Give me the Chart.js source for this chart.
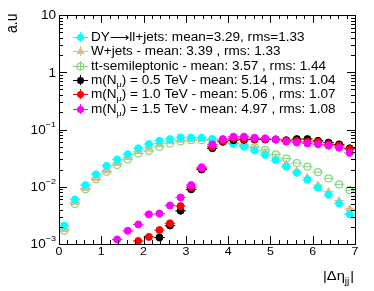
<!DOCTYPE html>
<html>
<head>
<meta charset="utf-8">
<script src="https://cdn.jsdelivr.net/npm/chart.js@4.4.1/dist/chart.umd.min.js"></script>
<style>
  html, body { margin: 0; padding: 0; background: #fff; }
</style>
</head>
<body>
<canvas id="c" width="374" height="291"></canvas>
<script>
// bin centres of |delta eta_jj| (bin width 0.25)
const binCenters = [0.125, 0.375, 0.625, 0.875, 1.125, 1.375, 1.625, 1.875, 2.125, 2.375,
                    2.625, 2.875, 3.125, 3.375, 3.625, 3.875, 4.125, 4.375, 4.625, 4.875,
                    5.125, 5.375, 5.625, 5.875, 6.125, 6.375, 6.625, 6.875];
const binHalfWidth = 0.125;

const dyValues = [0.0021, 0.006, 0.0107, 0.0165, 0.0232, 0.030, 0.037, 0.047, 0.0556, 0.0635,
                  0.068, 0.0728, 0.0728, 0.072, 0.068, 0.062, 0.056, 0.050, 0.043, 0.036,
                  0.029, 0.0224, 0.0175, 0.0132, 0.0096, 0.0072, 0.0051, 0.0033];
const wjValues = [0.0018, 0.0053, 0.0093, 0.014, 0.019, 0.0256, 0.0325, 0.042, 0.048, 0.057,
                  0.0615, 0.065, 0.066, 0.068, 0.066, 0.063, 0.059, 0.0556, 0.048, 0.040,
                  0.0316, 0.0249, 0.019, 0.0146, 0.0107, 0.0082, 0.0057, 0.0041];
const ttValues = [0.0017, 0.005, 0.009, 0.0135, 0.0182, 0.024, 0.030, 0.038, 0.042, 0.050,
                  0.057, 0.0615, 0.065, 0.065, 0.065, 0.062, 0.057, 0.053, 0.049, 0.044,
                  0.0367, 0.031, 0.026, 0.0224, 0.018, 0.014, 0.011, 0.0087];
const n05Values = [null, null, null, null, null, null, null, null, null, 0.0013,
                   0.0021, 0.0038, 0.009, 0.020, 0.047, 0.061, 0.065, 0.066, 0.067, 0.067,
                   0.067, 0.065, 0.068, 0.068, 0.0635, 0.059, 0.055, 0.047];
const n10Values = [null, null, null, null, null, null, null, 0.00113, 0.00133, 0.00175,
                   0.0023, 0.0046, 0.0098, 0.021, 0.050, 0.063, 0.070, 0.068, 0.068, 0.068,
                   0.067, 0.064, 0.063, 0.061, 0.061, 0.055, 0.052, 0.0455];
const n15Values = [null, null, null, null, null, 0.0012, 0.0017, 0.0022, 0.0033, 0.0034,
                   0.0047, 0.0065, 0.0107, 0.022, 0.055, 0.068, 0.075, 0.075, 0.072, 0.070,
                   0.067, 0.061, 0.059, 0.057, 0.055, 0.052, 0.048, 0.039];

const xTickLabels = ['0', '1', '2', '3', '4', '5', '6', '7'];
const yDecades = [1e-3, 1e-2, 1e-1, 1, 10];
const yTickLabels = [['10', '\u22123'], ['10', '\u22122'], ['10', '\u22121'], ['1', ''], ['10', '']];

// [text before subscript, subscript, text after]
const legendLabels = [
  ['DY\u27f6ll+jets: mean=3.29, rms=1.33'],
  ['W+jets - mean: 3.39 , rms: 1.33'],
  ['tt-semileptonic - mean: 3.57 , rms: 1.44'],
  ['m(N', '\u03bc', ') = 0.5 TeV - mean: 5.14 , rms: 1.04'],
  ['m(N', '\u03bc', ') = 1.0 TeV - mean: 5.06 , rms: 1.07'],
  ['m(N', '\u03bc', ') = 1.5 TeV - mean: 4.97 , rms: 1.08']
];

const FONT = '"Liberation Sans", Arial, Helvetica, sans-serif';
const SYMFONT = '"DejaVu Sans", sans-serif';
const TEXT_STRETCH = 1.13;

function toPoints(values) {
  const pts = [];
  values.forEach((v, i) => { if (v !== null) pts.push({ x: binCenters[i], y: v }); });
  return pts;
}

function series(label, values, color, style, order) {
  const open = style === 'open';
  return {
    label,
    data: toPoints(values),
    showLine: false,
    order,
    pointStyle: style === 'triangle' ? 'triangle' : 'circle',
    pointRadius: style === 'triangle' ? 4 : 3.5,
    pointBorderWidth: open ? 1.2 : 1,
    pointBorderColor: color,
    pointBackgroundColor: open ? 'rgba(0,0,0,0)' : color,
    errColor: color,
    markerStyle: style
  };
}

const datasets = [
  series(legendLabels[0][0], dyValues, '#00ffff', 'filled', 4),
  series(legendLabels[1][0], wjValues, '#deb887', 'triangle', 5),
  series(legendLabels[2][0], ttValues, '#80d880', 'open', 6),
  series('m05', n05Values, '#000000', 'filled', 3),
  series('m10', n10Values, '#ff0000', 'filled', 2),
  series('m15', n15Values, '#ff00ff', 'filled', 1)
];

// stretched text, like the original picture
function stretchText(ctx, text, x, y, align) {
  const w = ctx.measureText(text).width * TEXT_STRETCH;
  let x0 = x;
  if (align === 'right') x0 = x - w;
  else if (align === 'center') x0 = x - w / 2;
  ctx.save();
  ctx.translate(x0, y);
  ctx.scale(TEXT_STRETCH, 1);
  ctx.textAlign = 'left';
  ctx.fillText(text, 0, 0);
  ctx.restore();
  return w;
}

// arrow glyph comes from DejaVu, Liberation does not have the long one
function legendText(ctx, text, x, y, size) {
  const bits = text.split('\u27f6');
  bits.forEach((b, i) => {
    if (i > 0) {
      ctx.font = size + 'px ' + SYMFONT;
      x += stretchText(ctx, '\u27f6', x, y, 'left');
    }
    ctx.font = size + 'px ' + FONT;
    x += stretchText(ctx, b, x, y, 'left');
  });
  return x;
}

function drawMarker(ctx, style, color, x, y) {
  ctx.save();
  ctx.strokeStyle = color;
  ctx.fillStyle = color;
  ctx.lineWidth = style === 'open' ? 1.2 : 1;
  ctx.beginPath();
  if (style === 'triangle') {
    ctx.moveTo(x, y - 4.5);
    ctx.lineTo(x + 4, y + 2.5);
    ctx.lineTo(x - 4, y + 2.5);
    ctx.closePath();
    ctx.fill();
  } else {
    ctx.arc(x, y, 3.5, 0, Math.PI * 2);
    if (style === 'open') ctx.stroke(); else ctx.fill();
  }
  ctx.restore();
}

// horizontal bin-width error bars under each marker
const errorBars = {
  id: 'errorBars',
  beforeDatasetDraw(chart, args) {
    const ds = chart.data.datasets[args.index];
    const xs = chart.scales.x, ys = chart.scales.y;
    const ctx = chart.ctx;
    ctx.save();
    ctx.strokeStyle = ds.errColor;
    ctx.lineWidth = 1;
    ds.data.forEach(p => {
      const yp = ys.getPixelForValue(p.y);
      ctx.beginPath();
      ctx.moveTo(xs.getPixelForValue(p.x - binHalfWidth), yp);
      ctx.lineTo(xs.getPixelForValue(p.x + binHalfWidth), yp);
      ctx.stroke();
    });
    ctx.restore();
  }
};

// ROOT-like frame, inward ticks, labels, titles and legend
const rootFrame = {
  id: 'rootFrame',
  afterDraw(chart) {
    const ctx = chart.ctx;
    const a = chart.chartArea;
    const xs = chart.scales.x, ys = chart.scales.y;
    ctx.save();
    ctx.strokeStyle = '#000';
    ctx.lineWidth = 1;
    ctx.strokeRect(Math.round(a.left) + 0.5, Math.round(a.top) + 0.5,
                   Math.round(a.right - a.left), Math.round(a.bottom - a.top));

    ctx.beginPath();
    for (let i = 0; i <= 35; i++) {
      const v = i * 0.2;
      const px = Math.round(xs.getPixelForValue(v)) + 0.5;
      const len = (i % 5 === 0) ? 8 : 4;
      ctx.moveTo(px, a.bottom); ctx.lineTo(px, a.bottom - len);
      ctx.moveTo(px, a.top); ctx.lineTo(px, a.top + len);
    }
    yDecades.forEach((d, k) => {
      for (let m = 1; m <= 9; m++) {
        if (k === yDecades.length - 1 && m > 1) break;
        const py = Math.round(ys.getPixelForValue(d * m)) + 0.5;
        const len = m === 1 ? 8 : 4;
        ctx.moveTo(a.left, py); ctx.lineTo(a.left + len, py);
        ctx.moveTo(a.right, py); ctx.lineTo(a.right - len, py);
      }
    });
    ctx.stroke();

    ctx.fillStyle = '#000';
    ctx.textBaseline = 'middle';
    ctx.font = '11px ' + FONT;
    xTickLabels.forEach(t => {
      stretchText(ctx, t, xs.getPixelForValue(Number(t)), a.bottom + 8, 'center');
    });

    yDecades.forEach((d, k) => {
      const py = ys.getPixelForValue(d);
      const [base, exp] = yTickLabels[k];
      let right = 56;
      if (exp) {
        ctx.font = '8px ' + FONT;
        const ew = stretchText(ctx, exp, right, py - 5, 'right');
        right -= ew;
      }
      ctx.font = '12px ' + FONT;
      stretchText(ctx, base, right, py + 1, 'right');
    });

    // axis titles
    ctx.font = '13px ' + FONT;
    ctx.textBaseline = 'alphabetic';
    let tx = 323;
    tx += stretchText(ctx, '|\u0394\u03b7', tx, 280, 'left');
    ctx.font = '9px ' + FONT;
    tx += stretchText(ctx, 'jj', tx, 284, 'left');
    ctx.font = '13px ' + FONT;
    stretchText(ctx, '|', tx + 1, 280, 'left');

    ctx.save();
    ctx.translate(17, 33);
    ctx.rotate(-Math.PI / 2);
    ctx.scale(1, 1.2);
    ctx.font = '14px ' + FONT;
    ctx.fillText('a.u', 0, 0);
    ctx.restore();

    // legend
    const rowY = [37, 51, 66, 80, 94, 109];
    chart.data.datasets.forEach((ds, i) => {
      const y = rowY[i];
      ctx.strokeStyle = ds.errColor;
      ctx.lineWidth = 1;
      ctx.beginPath();
      ctx.moveTo(73, y + 0.5); ctx.lineTo(88, y + 0.5);
      ctx.moveTo(80.5, y - 5); ctx.lineTo(80.5, y + 5);
      ctx.stroke();
      drawMarker(ctx, ds.markerStyle, ds.errColor, 80.5, y + 0.5);

      ctx.fillStyle = '#000';
      ctx.textBaseline = 'middle';
      const parts = legendLabels[i];
      let x = legendText(ctx, parts[0], 91, y + 1, 12);
      if (parts.length > 1) {
        ctx.font = '8px ' + FONT;
        x += stretchText(ctx, parts[1], x, y + 5, 'left');
        legendText(ctx, parts[2], x, y + 1, 12);
      }
    });
    ctx.restore();
  }
};

new Chart(document.getElementById('c'), {
  type: 'scatter',
  data: { datasets },
  options: {
    responsive: false,
    animation: false,
    events: [],
    layout: { padding: { left: 59, right: 19, top: 15, bottom: 47 } },
    plugins: { legend: { display: false }, tooltip: { enabled: false } },
    scales: {
      x: { type: 'linear', min: 0, max: 7, display: false },
      y: { type: 'logarithmic', min: 1e-3, max: 10, display: false }
    }
  },
  plugins: [errorBars, rootFrame]
});
</script>
</body>
</html>
